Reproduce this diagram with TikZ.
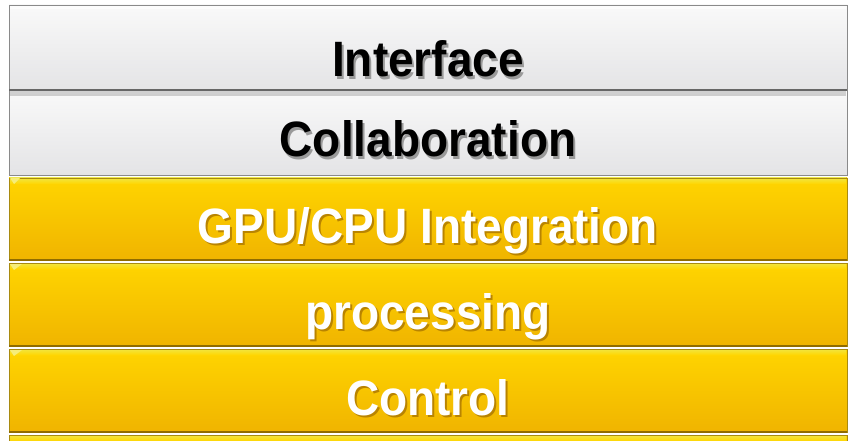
\documentclass[tikz,border=0pt]{standalone}
\usepackage{fontspec}
\setmainfont{Liberation Sans}
\definecolor{ytop}{HTML}{FFD500}
\definecolor{ybot}{HTML}{F0B400}
\definecolor{yhi}{HTML}{F2E640}
\definecolor{yedge}{HTML}{A88A10}
\definecolor{gtop}{HTML}{F9F9F9}
\definecolor{gbot}{HTML}{E4E4E6}
\definecolor{gedge}{HTML}{8A8A8A}
\definecolor{wshadow}{HTML}{B98400}
\definecolor{dshadowc}{HTML}{9A9A9A}
\newcommand{\shadtxt}[3]{\scalebox{1}[1.08]{\makebox[0pt][l]{\hspace{2pt}\raisebox{-2pt}{\color{#1}#3}}\color{#2}#3}}
\tikzset{
  x=1pt, y=-1pt,
  lbl/.style={font=\bfseries\fontsize{46}{50}\selectfont, anchor=base, inner sep=0pt},
}
\begin{document}
\begin{tikzpicture}
\useasboundingbox (0,0) rectangle (849,441);
\fill[white] (0,0) rectangle (849,441);
% grey rows
\foreach \a/\b in {5/90, 90/175}{
  \shade[top color=gtop, bottom color=gbot] (9,\a) rectangle (847,\b);
  \fill[white, opacity=0.6] (10,\a+1) rectangle (846,\a+4);
}
\fill[black!35, opacity=0.5] (10,91) rectangle (846,96);
\draw[gedge, line width=0.8pt] (9,5) rectangle (847,175);
\draw[black!60, line width=1.2pt] (9,90) -- (847,90);
% yellow rows
\foreach \a/\b in {178/260, 263/346, 349/432, 435/470}{
  \shade[top color=ytop, bottom color=ybot] (9,\a) rectangle (847,\b);
  \shade[top color=yhi, bottom color=ytop] (10,\a) rectangle (846,\a+6);
  \draw[yedge, line width=0.8pt] (9,\a) rectangle (847,\b);
  \draw[black!40!ybot, line width=1.2pt] (9,\b) -- (847,\b);
}
\fill[yhi!70!white] (10,178) -- (20,178) -- (14,184) -- cycle;
\fill[yhi!70!white] (10,264) -- (22,264) -- (14,270) -- cycle;
\fill[yhi!70!white] (10,350) -- (22,350) -- (14,356) -- cycle;
% labels
\node[lbl] (t1) at (428,77) {\shadtxt{dshadowc}{black}{Interface}};
\node[lbl] (t2) at (428,157) {\shadtxt{dshadowc}{black}{Collaboration}};
\node[lbl] (t3) at (428,243) {\shadtxt{wshadow}{white}{GPU/CPU Integration}};
\node[lbl] (t4) at (428,329) {\shadtxt{wshadow}{white}{processing}};
\node[lbl] (t5) at (428,415) {\shadtxt{wshadow}{white}{Control}};
\end{tikzpicture}
\end{document}
